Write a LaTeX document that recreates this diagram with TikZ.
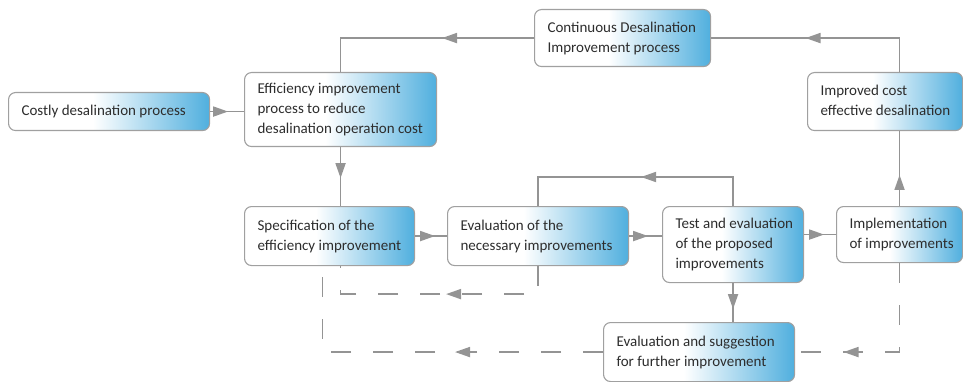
\documentclass[tikz,border=0pt]{standalone}
\usepackage{fontspec}
\setmainfont{Carlito}
\usetikzlibrary{arrows.meta,decorations.markings,calc}

\definecolor{linegray}{RGB}{148,148,148}
\definecolor{boxline}{RGB}{160,160,160}
\definecolor{boxblue}{RGB}{80,175,222}
\definecolor{txt}{RGB}{45,45,45}

% white on the left half, blue towards the right edge (box fits 25bp..75bp)
\pgfdeclarehorizontalshading{boxfill}{100bp}{color(0bp)=(white); color(46bp)=(white); color(75bp)=(boxblue); color(100bp)=(boxblue)}

% left-aligned block of lines in a box of fixed width
\newcommand\boxlines[2]{\makebox[#1][l]{\begin{tabular}{@{}l@{}}#2\end{tabular}}}

\tikzset{
  box/.style={draw=boxline, line width=1.1pt, rounded corners=7pt, shading=boxfill,
    inner xsep=13pt, inner ysep=0pt, anchor=north west, text=txt,
    font=\fontsize{15}{20}\selectfont},
  flow/.style={draw=linegray, line width=1.8pt},
  back/.style={flow, dash pattern=on 20pt off 22pt},
  tipat/.style={postaction={decorate, decoration={markings,
    mark=at position #1 with {\arrow[linegray]{Triangle[length=15pt,width=10pt]}}}}},
}

\begin{document}
\begin{tikzpicture}[x=1pt, y=-1pt]
\useasboundingbox (0,0) rectangle (963,382);

% process boxes
\node[box, minimum height=38pt] (costly) at (8,92)
  {\boxlines{175pt}{Costly desalination process}};
\node[box, minimum height=74pt] (effic) at (244,72)
  {\boxlines{166pt}{Efficiency improvement\\process to reduce\\desalination operation cost}};
\node[box, minimum height=57pt] (contin) at (534,9)
  {\boxlines{150pt}{Continuous Desalination\\Improvement process}};
\node[box, minimum height=58pt] (improved) at (807,72)
  {\boxlines{129pt}{Improved cost\\effective desalination}};
\node[box, minimum height=59pt] (spec) at (244,206)
  {\boxlines{144pt}{Specification of the\\efficiency improvement}};
\node[box, minimum height=59pt] (evalnec) at (447,206)
  {\boxlines{155pt}{Evaluation of the\\necessary improvements}};
\node[box, minimum height=76pt] (test) at (662,206)
  {\boxlines{115pt}{Test and evaluation\\of the proposed\\improvements}};
\node[box, minimum height=56pt] (impl) at (836,206)
  {\boxlines{100pt}{Implementation\\of improvements}};
\node[box, minimum height=59pt] (evalsug) at (603,322)
  {\boxlines{165pt}{Evaluation and suggestion\\for further improvement}};

% helper points for the routed connectors
\coordinate (loopy) at (0,177);
\coordinate (specleg) at ($(spec.south)+(-7,0)$);

% main flow
\draw[flow, tipat=18pt] (costly.east) -- (costly.east -| effic.west);
\draw[flow, tipat=31pt] (effic.south) -- (effic.south |- spec.north);
\draw[flow, tipat=20pt] (spec.east) -- (spec.east -| evalnec.west);
\draw[flow, tipat=19pt] (evalnec.east) -- (evalnec.east -| test.west);
\draw[flow, tipat=20pt] (impl.west -| test.east) -- (impl.west);
\draw[flow, tipat=31pt] (impl.north) -- (impl.north |- improved.south);
\draw[flow, tipat=128pt] (impl.north |- improved.north) |- (contin.east);
\draw[flow, tipat=92pt] (contin.west) -| (effic.north);
\draw[flow, tipat=121pt] (test.north) -- (test.north |- loopy) -| (evalnec.north);
\draw[flow, tipat=26pt] (test.south) -- (test.south |- evalsug.north);

% feedback (dashed)
\draw[back, tipat=120pt] (evalnec.south) -- ++(0,28) -| (effic.south |- spec.south);
\draw[back, tipat=145pt] (impl.south) |- (evalsug.east);
\draw[back, tipat=148pt] (evalsug.west) -| (specleg);
\end{tikzpicture}
\end{document}
